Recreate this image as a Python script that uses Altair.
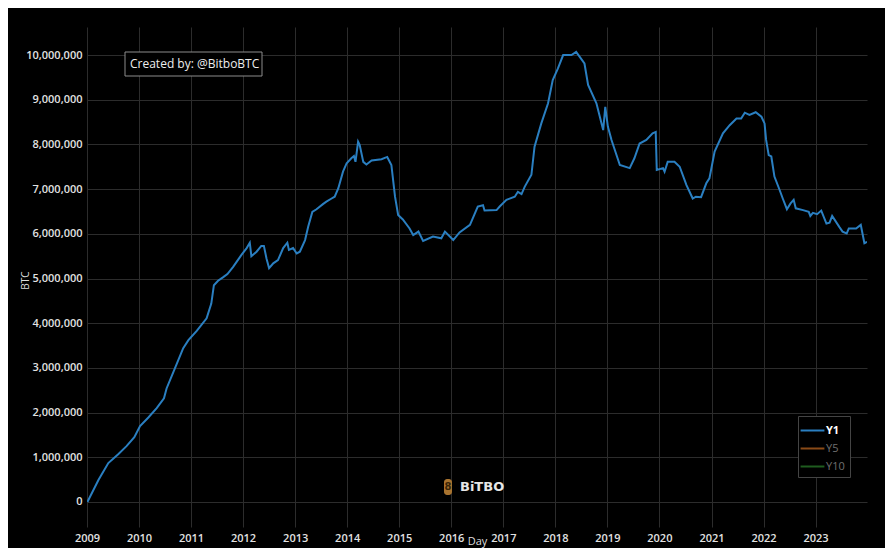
import altair as alt
import pandas as pd

# ---- data (decimal year, BTC in millions) ----
years = [
    2009.007, 2009.22, 2009.41, 2009.60, 2009.76, 2009.91, 2010.02, 2010.18, 2010.34, 2010.48,
    2010.53, 2010.69, 2010.85, 2010.95, 2011.11, 2011.30, 2011.39, 2011.44, 2011.52, 2011.62,
    2011.70, 2011.81, 2011.97, 2012.07, 2012.13, 2012.16, 2012.26, 2012.35, 2012.40, 2012.45,
    2012.50, 2012.58, 2012.67, 2012.77, 2012.85, 2012.88, 2012.96, 2013.03, 2013.09, 2013.19,
    2013.25, 2013.33, 2013.41, 2013.54, 2013.60, 2013.70, 2013.76, 2013.83, 2013.92, 2013.99,
    2014.08, 2014.13, 2014.16, 2014.21, 2014.24, 2014.31, 2014.37, 2014.47, 2014.66, 2014.77,
    2014.85, 2014.92, 2014.98, 2015.07, 2015.20, 2015.27,
    2015.37, 2015.46, 2015.65, 2015.81, 2015.88, 2016.04, 2016.16, 2016.36, 2016.51, 2016.61,
    2016.64, 2016.87, 2016.93, 2017.06, 2017.22, 2017.28, 2017.35, 2017.41, 2017.54, 2017.60,
    2017.73, 2017.86, 2017.95, 2018.05, 2018.15, 2018.31, 2018.40, 2018.56, 2018.63, 2018.79,
    2018.92, 2018.96, 2019.01, 2019.08, 2019.24, 2019.43, 2019.52, 2019.62, 2019.75, 2019.87,
    2019.93, 2019.95, 2020.07, 2020.10, 2020.16, 2020.29, 2020.39, 2020.52, 2020.64, 2020.70,
    2020.80, 2020.90, 2020.96, 2021.06, 2021.22, 2021.35, 2021.48, 2021.57, 2021.64, 2021.73,
    2021.85, 2021.96, 2022.02,
    2022.05, 2022.10, 2022.15, 2022.21, 2022.31, 2022.37, 2022.45, 2022.52, 2022.58, 2022.62,
    2022.76, 2022.87, 2022.90, 2022.95, 2023.03, 2023.11, 2023.21, 2023.27, 2023.32, 2023.46,
    2023.52, 2023.60, 2023.64, 2023.78, 2023.87, 2023.94, 2023.99,
]
btc_millions = [
    0.00, 0.49, 0.87, 1.07, 1.25, 1.45, 1.70, 1.89, 2.10, 2.32,
    2.54, 2.99, 3.44, 3.62, 3.83, 4.11, 4.44, 4.85, 4.95, 5.03,
    5.10, 5.26, 5.53, 5.68, 5.80, 5.50, 5.60, 5.73, 5.73, 5.45,
    5.23, 5.34, 5.41, 5.68, 5.80, 5.64, 5.68, 5.56, 5.60, 5.86,
    6.16, 6.49, 6.55, 6.67, 6.72, 6.79, 6.83, 7.02, 7.39, 7.58,
    7.69, 7.74, 7.61, 8.06, 7.99, 7.61, 7.55, 7.64, 7.67, 7.72,
    7.54, 6.83, 6.42, 6.32, 6.12, 5.97,
    6.05, 5.84, 5.94, 5.90, 6.05, 5.86, 6.03, 6.20, 6.61, 6.64,
    6.52, 6.53, 6.61, 6.76, 6.83, 6.94, 6.89, 7.05, 7.32, 7.95,
    8.47, 8.92, 9.44, 9.70, 10.00, 10.00, 10.07, 9.81, 9.33, 8.92,
    8.32, 8.84, 8.40, 8.10, 7.54, 7.47, 7.69, 8.02, 8.10, 8.25,
    8.28, 7.43, 7.47, 7.39, 7.61, 7.61, 7.50, 7.09, 6.79, 6.83,
    6.82, 7.13, 7.24, 7.84, 8.25, 8.43, 8.58, 8.58, 8.71, 8.66,
    8.72, 8.62, 8.47,
    8.10, 7.76, 7.73, 7.28, 6.98, 6.79, 6.55, 6.68, 6.76, 6.57,
    6.53, 6.49, 6.40, 6.47, 6.44, 6.52, 6.23, 6.25, 6.40, 6.15,
    6.05, 6.01, 6.12, 6.12, 6.20, 5.79, 5.82,
]
series_names = ["Y1", "Y5", "Y10"]
series_colors = ["#2a7fc1", "#8a4a17", "#1f5c1f"]
year_ticks = list(range(2009, 2024))
btc_ticks = [i * 1_000_000 for i in range(11)]
note_text = ["Created by: @BitboBTC"]
logo_text = ["BiTBO"]


def to_ts(y):
    yr = int(y)
    start = pd.Timestamp(yr, 1, 1)
    end = pd.Timestamp(yr + 1, 1, 1)
    return start + (end - start) * (y - yr)


stamps = [to_ts(y) for y in years]
df = pd.DataFrame({
    "Day": [t.strftime("%Y-%m-%dT%H:%M:%S") for t in stamps],
    "BTC": [v * 1_000_000 for v in btc_millions],
    "series": ["Y1"] * len(years),
})
last = stamps[-1]

font = "Open Sans"

line = alt.Chart(df).mark_line(strokeWidth=2, clip=True).encode(
    x=alt.X(
        "Day:T",
        scale=alt.Scale(
            domain=[alt.DateTime(year=2009, month=1, date=1),
                    alt.DateTime(year=last.year, month=last.month, date=last.day, hours=last.hour)],
            nice=False,
        ),
        axis=alt.Axis(
            title="Day", format="%Y",
            values=[alt.DateTime(year=y, month=1, date=1) for y in year_ticks],
            labelFlush=False, labelPadding=5, titleX=390, titleY=14,
            titleBaseline="middle", titleFontSize=11,
        ),
    ),
    y=alt.Y(
        "BTC:Q",
        scale=alt.Scale(domain=[-559500, 10627000], nice=False, zero=False),
        axis=alt.Axis(
            title="BTC", values=btc_ticks, format=",d", labelPadding=5,
            titleX=-62, titleY=253, titleAlign="center", titleBaseline="middle",
            titleFontSize=10,
        ),
    ),
    color=alt.Color(
        "series:N",
        scale=alt.Scale(domain=series_names, range=series_colors),
        legend=alt.Legend(
            title=None, orient="none", legendX=711, legendY=389,
            fillColor="#000000", strokeColor="#444444", padding=5,
            symbolType="M-1.4,0H1.4", symbolSize=289, symbolStrokeWidth=2,
            symbolOffset=0, labelOffset=4, labelFontSize=11, labelFont=font,
            labelColor={"expr": "datum.label == 'Y1' ? '#ffffff' : '#707070'"},
            labelFontWeight={"expr": "datum.label == 'Y1' ? 'bold' : 'normal'"},
            rowPadding=3,
        ),
    ),
)

note_df = pd.DataFrame({"text": note_text})
note_box = alt.Chart(note_df).mark_rect(
    fill="#000000", stroke="#8c8c8c", strokeWidth=1
).encode(x=alt.value(38), x2=alt.value(175), y=alt.value(25), y2=alt.value(49))
note = alt.Chart(note_df).mark_text(
    align="left", baseline="middle", fontSize=12, color="#eeeeee", font=font
).encode(x=alt.value(43), y=alt.value(37), text="text:N")

logo_df = pd.DataFrame({"text": logo_text})
logo_icon = alt.Chart(logo_df).mark_rect(
    fill="#a8732f", cornerRadius=3
).encode(x=alt.value(357), x2=alt.value(365), y=alt.value(452), y2=alt.value(468))
logo_glyph = alt.Chart(logo_df).mark_text(
    align="center", baseline="middle", fontSize=10, fontWeight="bold", color="#3a2508", font="DejaVu Sans"
).encode(x=alt.value(361), y=alt.value(460), text=alt.value("8"))
logo = alt.Chart(logo_df).mark_text(
    align="left", baseline="middle", fontSize=13, fontWeight="bold", color="#e6e6e6",
    font="DejaVu Sans"
).encode(x=alt.value(373), y=alt.value(460), text="text:N")

chart = alt.layer(line, note_box, note, logo_icon, logo_glyph, logo).properties(
    width=780, height=500,
    autosize=alt.AutoSizeParams(type="none"),
    padding={"left": 79, "top": 19, "right": 18, "bottom": 21},
    background="#000000",
).configure_view(stroke="transparent").configure_axis(
    gridColor="#2c2c2c", gridWidth=1, domain=False, ticks=False, tickSize=0,
    labelColor="#e2e2e2", labelFont=font, labelFontSize=11, labelFontWeight=600,
    titleColor="#dddddd", titleFont=font, titleFontWeight="normal",
)

chart.save("out.html", embed_options={"renderer": "svg", "actions": False})
